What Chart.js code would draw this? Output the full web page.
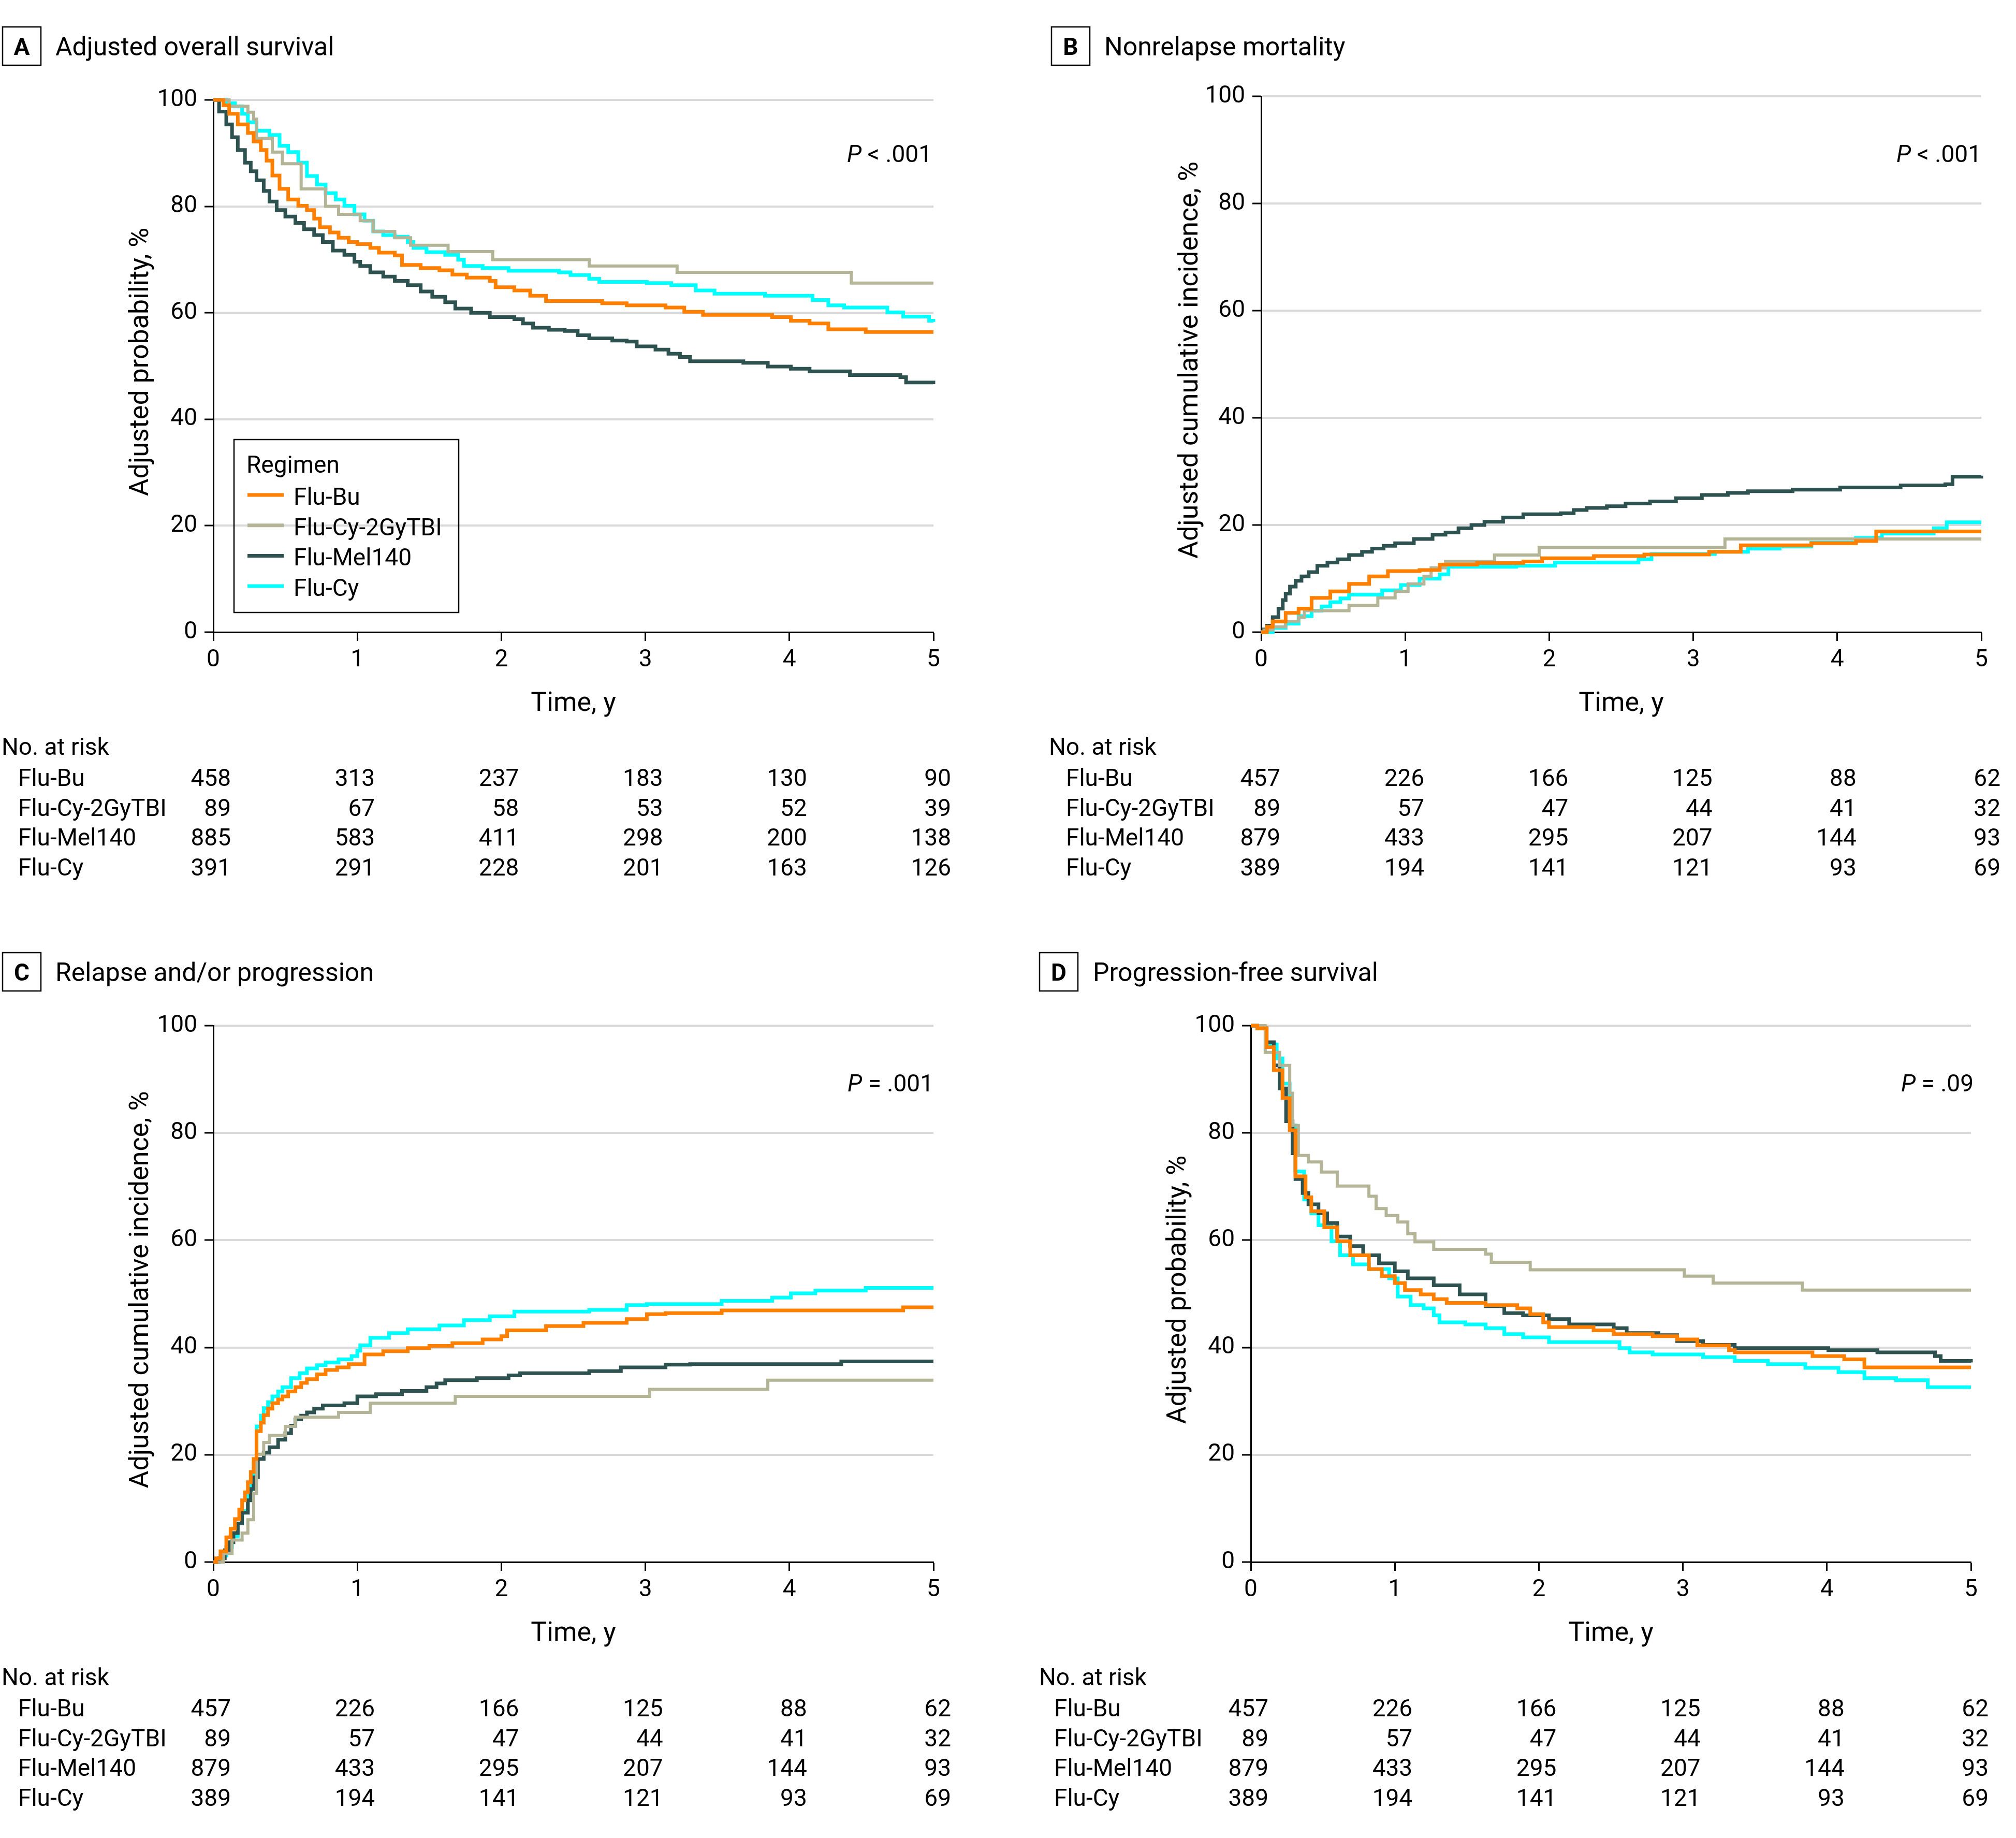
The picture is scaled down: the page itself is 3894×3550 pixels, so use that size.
<!DOCTYPE html>
<html>
<head>
<meta charset="utf-8">
<title>Outcomes by conditioning regimen</title>
<script src="https://cdn.jsdelivr.net/npm/chart.js@4.4.1/dist/chart.umd.min.js"></script>
<style>
  html, body { margin: 0; padding: 0; background: #fff; }
  #page { position: relative; width: 3894px; height: 3550px; overflow: hidden; background: #fff; }
  canvas { position: absolute; }
</style>
</head>
<body>
<div id="page"></div>
<script>
// categories and ticks
var regimens = ['Flu-Bu', 'Flu-Cy-2GyTBI', 'Flu-Mel140', 'Flu-Cy'];
var yearTicks = [0, 1, 2, 3, 4, 5];
var pctTicks = [0, 20, 40, 60, 80, 100];

// numbers at risk (rows follow regimens, columns follow yearTicks)
var riskOS = [[458, 313, 237, 183, 130, 90], [89, 67, 58, 53, 52, 39], [885, 583, 411, 298, 200, 138], [391, 291, 228, 201, 163, 126]];
var riskOther = [[457, 226, 166, 125, 88, 62], [89, 57, 47, 44, 41, 32], [879, 433, 295, 207, 144, 93], [389, 194, 141, 121, 93, 69]];

// A - adjusted overall survival, [year, %]
var osBu = [[0,100],[0.07,99],[0.11,97.4],[0.17,95.4],[0.24,93.8],[0.28,92.2],[0.33,90.6],[0.37,88.6],[0.41,85.8],[0.46,83.3],[0.52,81.3],[0.59,80.1],[0.65,79.3],[0.70,77.7],[0.74,76.1],[0.81,75.1],[0.87,74.1],[0.94,73.3],[1.0,72.9],[1.09,72.2],[1.15,71.3],[1.26,70.8],[1.31,69.0],[1.44,68.4],[1.57,68.0],[1.66,67.2],[1.76,66.6],[1.92,66.0],[1.96,64.8],[2.09,64.2],[2.20,63.2],[2.31,62.2],[2.70,61.8],[2.87,61.4],[3.14,61.0],[3.27,60.2],[3.40,59.6],[3.88,59.2],[4.01,58.5],[4.14,58.0],[4.27,56.9],[4.53,56.4],[5,56.4]];
var osTbi = [[0,100],[0.11,98.8],[0.24,97.7],[0.28,96.4],[0.30,92.8],[0.41,90.2],[0.48,88.0],[0.61,83.3],[0.78,80.0],[0.87,78.5],[1.02,77.3],[1.11,75.3],[1.26,74.1],[1.37,72.7],[1.63,71.5],[1.94,70.0],[2.61,68.8],[3.22,67.6],[4.43,65.6],[5,65.6]];
var osMel = [[0,100],[0.04,97.8],[0.09,95.4],[0.13,93],[0.17,90.6],[0.22,88.2],[0.26,86.6],[0.30,84.9],[0.35,82.9],[0.39,80.9],[0.44,79.3],[0.50,78.1],[0.57,76.9],[0.63,75.7],[0.70,74.6],[0.76,73.3],[0.83,71.7],[0.91,70.9],[0.98,69.6],[1.02,68.8],[1.09,67.6],[1.18,66.8],[1.26,66.0],[1.35,65.2],[1.44,64.0],[1.52,63.0],[1.61,62.0],[1.68,60.8],[1.79,60.0],[1.92,59.2],[2.09,58.8],[2.15,58.0],[2.22,57.2],[2.33,56.8],[2.44,56.6],[2.53,55.8],[2.61,55.2],[2.77,54.8],[2.87,54.6],[2.94,53.7],[3.07,53.1],[3.16,52.3],[3.24,51.7],[3.31,50.9],[3.68,50.6],[3.85,49.9],[4.01,49.5],[4.14,49.0],[4.42,48.3],[4.77,47.9],[4.81,46.9],[5,46.6]];
var osCy = [[0,100],[0.09,99.4],[0.15,98.8],[0.20,97.4],[0.24,95.8],[0.30,94.2],[0.39,93.4],[0.46,91.4],[0.52,90.2],[0.59,88.2],[0.65,85.7],[0.72,84.1],[0.78,82.5],[0.85,81.3],[0.91,80.1],[0.98,78.5],[1.05,77.3],[1.11,75.3],[1.18,74.6],[1.26,74.3],[1.35,73.3],[1.39,72.2],[1.48,71.4],[1.61,70.9],[1.70,70.0],[1.74,68.8],[1.87,68.4],[2.05,67.9],[2.40,67.6],[2.48,67.1],[2.61,66.4],[2.68,65.8],[3.01,65.6],[3.18,65.2],[3.35,64.2],[3.48,63.6],[3.83,63.2],[4.16,62.4],[4.27,61.4],[4.38,61.0],[4.68,60.1],[4.79,59.3],[4.97,58.5],[5,58.3]];

// B - nonrelapse mortality
var nrmBu = [[0,0],[0.04,1],[0.08,2],[0.17,3.6],[0.26,4.4],[0.35,6.4],[0.48,7.6],[0.61,9],[0.75,10.4],[0.88,11.4],[1.10,11.6],[1.24,12.6],[1.50,12.9],[1.82,13.2],[1.95,13.8],[2.31,14.2],[2.66,14.5],[3.11,15],[3.33,16.2],[3.82,16.6],[4.13,17],[4.27,18.8],[5,18.8]];
var nrmTbi = [[0,0],[0.02,0.4],[0.08,1],[0.17,2],[0.26,2.8],[0.30,4],[0.61,5],[0.81,6.4],[0.93,7.6],[1.02,9],[1.13,10.4],[1.18,12],[1.28,13.2],[1.62,14.4],[1.93,15.8],[3.22,17.4],[5,17.4]];
var nrmMel = [[0,0],[0.02,0.5],[0.04,1.2],[0.08,2.8],[0.12,4.4],[0.15,6],[0.17,7.2],[0.20,8.5],[0.24,9.6],[0.28,10.4],[0.33,11.2],[0.39,12.4],[0.46,13],[0.53,13.6],[0.61,14.4],[0.70,15],[0.77,15.6],[0.85,16.1],[0.93,16.6],[1.06,17.4],[1.19,18.2],[1.28,18.6],[1.37,19.4],[1.46,20],[1.55,20.6],[1.68,21.4],[1.82,22],[2.08,22.2],[2.17,22.8],[2.26,23.2],[2.40,23.5],[2.53,24],[2.70,24.4],[2.88,25],[3.06,25.6],[3.24,26],[3.38,26.3],[3.69,26.6],[4.02,27],[4.44,27.4],[4.75,27.6],[4.80,29],[5,29.2]];
var nrmCy = [[0,0],[0.08,0.8],[0.17,1.6],[0.26,3],[0.35,4],[0.42,4.8],[0.48,5.6],[0.55,6.3],[0.61,7],[0.84,7.8],[0.97,8.8],[1.10,10],[1.24,10.8],[1.30,12.2],[1.77,12.4],[2.04,13],[2.62,13.6],[2.71,14.6],[3.15,15],[3.38,15.6],[3.60,16],[3.82,16.7],[4.13,17.6],[4.31,18.4],[4.67,19.4],[4.76,20.5],[5,20.5]];

// C - relapse and/or progression
var relBu = [[0,0],[0.02,0.7],[0.05,2],[0.09,4.6],[0.12,6.2],[0.15,8],[0.18,9.8],[0.20,11.5],[0.22,13],[0.24,14.9],[0.26,16.8],[0.28,19.2],[0.30,24.4],[0.33,26],[0.35,27.4],[0.38,28.6],[0.41,29.6],[0.45,30.3],[0.48,30.9],[0.52,31.8],[0.57,32.6],[0.61,33.4],[0.65,34.1],[0.72,35],[0.78,35.8],[0.86,36.3],[0.94,36.9],[1.05,38.7],[1.18,39.3],[1.35,39.9],[1.50,40.3],[1.66,40.8],[1.87,41.5],[2.0,42.1],[2.04,43.2],[2.31,44],[2.57,44.6],[2.87,45.3],[3.01,46.2],[3.14,46.4],[3.53,46.9],[4.79,47.5],[5,47.5]];
var relTbi = [[0,0],[0.07,1.6],[0.13,4.1],[0.20,5.4],[0.24,7.9],[0.28,12.8],[0.30,20.1],[0.35,22.3],[0.39,23.6],[0.50,25.3],[0.57,27],[0.87,27.9],[1.09,29.6],[1.68,30.9],[3.03,32.2],[3.85,33.9],[5,33.9]];
var relMel = [[0,0],[0.04,0.7],[0.08,2.2],[0.11,3.7],[0.14,5.4],[0.17,7.2],[0.20,9.2],[0.24,11.5],[0.26,13.6],[0.28,15.8],[0.31,19.2],[0.35,20.4],[0.39,21.4],[0.45,22.8],[0.50,24],[0.54,25.4],[0.57,26.6],[0.61,27.3],[0.65,27.9],[0.70,28.6],[0.76,29.2],[0.91,29.6],[1.0,30.9],[1.13,31.3],[1.31,31.9],[1.48,32.6],[1.55,33.3],[1.61,33.9],[1.83,34.3],[2.05,34.8],[2.13,35.2],[2.61,35.6],[2.83,36.3],[3.14,36.8],[3.31,36.9],[4.36,37.4],[5,37.4]];
var relCy = [[0,0],[0.02,0.3],[0.05,1.2],[0.09,2.8],[0.13,4.8],[0.17,7.2],[0.20,9.5],[0.24,12.3],[0.26,15],[0.28,18.4],[0.30,25.3],[0.33,27.3],[0.35,28.7],[0.38,29.8],[0.41,30.9],[0.45,31.8],[0.48,32.6],[0.54,34.3],[0.60,35.2],[0.65,36.1],[0.72,36.7],[0.78,37.2],[0.87,37.8],[0.96,38.4],[1.0,39.4],[1.02,40.4],[1.09,41.8],[1.22,42.7],[1.35,43.4],[1.57,44.1],[1.74,45.1],[1.92,45.8],[2.09,46.7],[2.61,47],[2.87,47.9],[3.01,48.1],[3.53,48.7],[3.88,49.3],[4.01,50.1],[4.18,50.6],[4.53,51.1],[5,51.1]];

// D - progression-free survival
var pfsBu = [[0,100],[0.045,99.5],[0.11,96],[0.16,91.7],[0.22,86.5],[0.27,80.5],[0.31,71.9],[0.38,68],[0.42,65.4],[0.51,62.4],[0.60,59.8],[0.69,57.2],[0.82,54.6],[0.91,53.3],[1.0,52],[1.07,50.7],[1.18,49.9],[1.27,49],[1.36,48.3],[1.63,47.9],[1.85,47.3],[1.94,46.2],[2.03,44.7],[2.07,43.8],[2.38,43.2],[2.52,42.5],[2.79,42.1],[2.96,41.5],[3.10,40.4],[3.32,39.5],[3.36,39.1],[3.90,38.4],[4.12,37.8],[4.26,36.3],[5,36.3]];
var pfsTbi = [[0,100],[0.10,95],[0.20,92.6],[0.27,87.4],[0.29,81.4],[0.33,75.8],[0.40,74.6],[0.49,72.7],[0.60,70.1],[0.82,68.2],[0.87,65.9],[0.94,64.6],[1.02,63.4],[1.09,61.2],[1.14,59.7],[1.27,58.3],[1.63,57.4],[1.67,55.9],[1.94,54.5],[3.01,53.3],[3.21,52],[3.83,50.7],[5,50.7]];
var pfsMel = [[0,100],[0.045,99.5],[0.11,96.9],[0.16,92.6],[0.20,88.3],[0.245,82.2],[0.29,76.2],[0.31,71.4],[0.36,68.8],[0.40,66.7],[0.47,65],[0.53,63.2],[0.60,60.7],[0.69,58.9],[0.78,57.2],[0.89,55.7],[1.0,54.2],[1.09,52.9],[1.27,51.6],[1.45,49.9],[1.63,47.7],[1.76,46.4],[1.89,46],[2.07,45.3],[2.21,44.3],[2.52,43.6],[2.61,42.7],[2.83,42.3],[2.96,41.2],[3.14,40.5],[3.36,39.9],[4.01,39.5],[4.35,39.1],[4.75,38.4],[4.79,37.5],[5,37.2]];
var pfsCy = [[0,100],[0.045,99.5],[0.11,96.5],[0.18,93.9],[0.22,89.2],[0.27,81.4],[0.31,72.8],[0.37,67.6],[0.42,65],[0.47,62.8],[0.56,59.8],[0.62,57.2],[0.71,55.5],[0.82,54.6],[0.96,52.9],[1.02,49.5],[1.11,47.9],[1.20,47.3],[1.27,46],[1.31,44.7],[1.49,44.3],[1.63,43.6],[1.76,42.5],[1.89,41.9],[2.07,41],[2.56,39.9],[2.63,39.1],[2.79,38.7],[3.14,38.2],[3.36,37.5],[3.59,36.9],[3.85,36.2],[4.08,35.4],[4.26,34.3],[4.48,33.9],[4.70,32.6],[5,32.6]];

// styles
var colors = ['#FF7F00', '#B4B497', '#2D524F', '#00FFFF'];
var widths = [7, 6, 7, 7];
var FONT = 'Roboto';

// layout of the four panels, in page pixels
var CW = 1947, CH = 1775, XAXIS_H = 100;
var panels = [
    { letter: 'A', title: 'Adjusted overall survival', yTitle: 'Adjusted probability, %', pOp: '<', pVal: '.001',
      origin: [0, 0], rect: [412, 193, 1803, 1221], box: [5, 52], titleX: 107, yTitleX: 273,
      pRight: 1800, pBase: 313, riskBase: 1458, noRiskX: 3, rowX: 35, valOff: 34, legend: true,
      series: [osBu, osTbi, osMel, osCy], risk: riskOS },
    { letter: 'B', title: 'Nonrelapse mortality', yTitle: 'Adjusted cumulative incidence, %', pOp: '<', pVal: '.001',
      origin: [1947, 0], rect: [2436, 186, 3827, 1221], box: [2031, 52], titleX: 2133, yTitleX: 2300,
      pRight: 3827, pBase: 313, riskBase: 1458, noRiskX: 2026, rowX: 2059, valOff: 37, legend: false,
      series: [nrmBu, nrmTbi, nrmMel, nrmCy], risk: riskOther },
    { letter: 'C', title: 'Relapse and/or progression', yTitle: 'Adjusted cumulative incidence, %', pOp: '=', pVal: '.001',
      origin: [0, 1775], rect: [412, 1981, 1803, 3017], box: [5, 1840], titleX: 107, yTitleX: 273,
      pRight: 1803, pBase: 2108, riskBase: 3255, noRiskX: 3, rowX: 35, valOff: 34, legend: false,
      series: [relBu, relTbi, relMel, relCy], risk: riskOther },
    { letter: 'D', title: 'Progression-free survival', yTitle: 'Adjusted probability, %', pOp: '=', pVal: '.09',
      origin: [1947, 1775], rect: [2416, 1981, 3807, 3017], box: [2008, 1840], titleX: 2111, yTitleX: 2277,
      pRight: 3812, pBase: 2108, riskBase: 3255, noRiskX: 2007, rowX: 2036, valOff: 34, legend: false,
      series: [pfsBu, pfsTbi, pfsMel, pfsCy], risk: riskOther }
];

function font(size, weight, style) {
    return (style || 'normal') + ' ' + (weight || 'normal') + ' ' + size + 'px ' + FONT;
}

function text(ctx, s, x, y, size, align, weight, style) {
    ctx.font = font(size, weight, style);
    ctx.textAlign = align || 'left';
    ctx.fillText(s, x, y);
}

// draws titles, p value, legend and the risk table on top of the chart
function makeExtras(p) {
    return {
        id: 'extras' + p.letter,
        afterDraw: function(chart) {
            var ctx = chart.ctx;
            var ox = p.origin[0], oy = p.origin[1];
            var L = p.rect[0], T = p.rect[1], R = p.rect[2], B = p.rect[3];
            ctx.save();
            ctx.translate(-ox, -oy);
            ctx.fillStyle = '#000';
            ctx.strokeStyle = '#000';
            ctx.textBaseline = 'alphabetic';

            // panel letter box and title
            ctx.lineWidth = 2.5;
            ctx.strokeRect(p.box[0], p.box[1], 74, 74);
            text(ctx, p.letter, p.box[0] + 37, p.box[1] + 54, 46, 'center', 'bold');
            text(ctx, p.title, p.titleX, p.box[1] + 55, 50);

            // axis titles
            ctx.save();
            ctx.translate(p.yTitleX, (T + B) / 2 - 8);
            ctx.rotate(-Math.PI / 2);
            ctx.textBaseline = 'middle';
            text(ctx, p.yTitle, 0, 0, 52, 'center');
            ctx.restore();
            text(ctx, 'Time, y', (L + R) / 2, B + 152, 52, 'center');

            // p value, italic P
            ctx.font = font(46);
            var rest = ' ' + p.pOp + ' ' + p.pVal;
            var wRest = ctx.measureText(rest).width;
            text(ctx, rest, p.pRight, p.pBase, 46, 'right');
            text(ctx, 'P', p.pRight - wRest, p.pBase, 46, 'right', 'normal', 'italic');

            // legend
            if (p.legend) {
                ctx.lineWidth = 2.5;
                ctx.strokeRect(452, 849, 434, 334);
                text(ctx, 'Regimen', 476, 913, 46);
                chart.data.datasets.forEach(function(ds, i) {
                    var cy = 956 + i * 58.7;
                    ctx.strokeStyle = ds.borderColor;
                    ctx.lineWidth = 7;
                    ctx.beginPath();
                    ctx.moveTo(478, cy);
                    ctx.lineTo(548, cy);
                    ctx.stroke();
                    text(ctx, ds.label, 567, cy + 19, 46);
                });
            }

            // numbers at risk
            var xs = chart.scales.x;
            text(ctx, 'No. at risk', p.noRiskX, p.riskBase, 46);
            regimens.forEach(function(name, i) {
                var yb = p.riskBase + 60 + i * 57.7;
                text(ctx, name, p.rowX, yb, 46);
                yearTicks.forEach(function(t, k) {
                    var px = xs.getPixelForValue(t) + ox + p.valOff;
                    text(ctx, String(p.risk[i][k]), px, yb, 46, 'right');
                });
            });
            ctx.restore();
        }
    };
}

function buildPanel(p) {
    var canvas = document.createElement('canvas');
    canvas.width = CW;
    canvas.height = CH;
    canvas.style.left = p.origin[0] + 'px';
    canvas.style.top = p.origin[1] + 'px';
    canvas.style.width = CW + 'px';
    canvas.style.height = CH + 'px';
    document.getElementById('page').appendChild(canvas);

    var ox = p.origin[0], oy = p.origin[1];
    var L = p.rect[0], T = p.rect[1], R = p.rect[2], B = p.rect[3];

    var datasets = regimens.map(function(name, i) {
        return {
            label: name,
            data: p.series[i].map(function(pt) { return { x: pt[0], y: pt[1] }; }),
            borderColor: colors[i],
            backgroundColor: colors[i],
            borderWidth: widths[i],
            stepped: true,
            pointRadius: 0,
            fill: false,
            clip: 8
        };
    });

    return new Chart(canvas.getContext('2d'), {
        type: 'line',
        data: { datasets: datasets },
        options: {
            responsive: false,
            animation: false,
            devicePixelRatio: 1,
            layout: { padding: { left: 0, top: T - oy, right: ox + CW - R, bottom: oy + CH - B - XAXIS_H } },
            plugins: { legend: { display: false }, tooltip: { enabled: false } },
            scales: {
                x: {
                    type: 'linear', min: 0, max: 5,
                    afterBuildTicks: function(s) { s.ticks = yearTicks.map(function(v) { return { value: v }; }); },
                    afterFit: function(s) { s.height = XAXIS_H; },
                    grid: { drawOnChartArea: false, drawTicks: true, tickLength: 17, tickWidth: 3, tickColor: '#000' },
                    border: { display: true, color: '#000', width: 3 },
                    ticks: { font: { size: 46, family: FONT }, color: '#000', padding: 10, maxRotation: 0 }
                },
                y: {
                    type: 'linear', min: 0, max: 100,
                    afterBuildTicks: function(s) { s.ticks = pctTicks.map(function(v) { return { value: v }; }); },
                    afterFit: function(s) { s.width = L - ox; },
                    grid: { color: '#D9D9D9', lineWidth: 4, drawTicks: true, tickLength: 17, tickWidth: 3, tickColor: '#000' },
                    border: { display: true, color: '#000', width: 3 },
                    ticks: { font: { size: 46, family: FONT }, color: '#000', padding: 14 }
                }
            }
        },
        plugins: [makeExtras(p)]
    });
}

function init() {
    Chart.defaults.font.family = FONT;
    Chart.defaults.color = '#000';
    panels.forEach(buildPanel);
}

if (document.fonts && document.fonts.load) {
    Promise.all([document.fonts.load('46px Roboto'), document.fonts.load('italic 46px Roboto'), document.fonts.load('bold 46px Roboto')])
        .then(init, init);
} else {
    init();
}
</script>
</body>
</html>
